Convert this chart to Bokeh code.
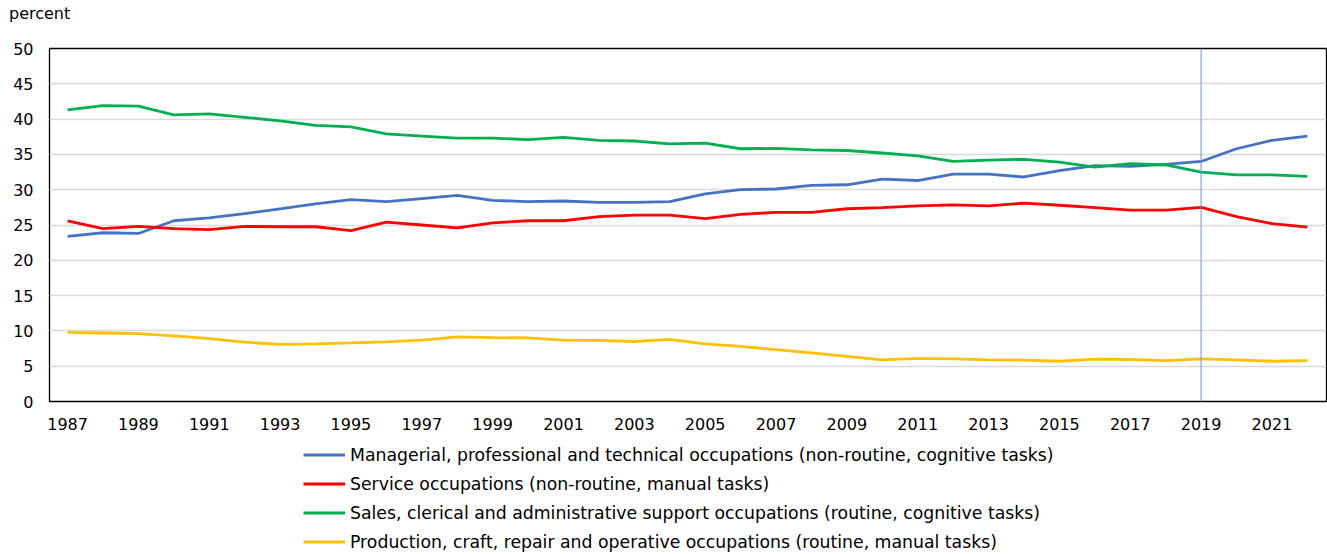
from bokeh.plotting import figure
from bokeh.models import Legend, LegendItem, Span, FixedTicker, Div
from bokeh.layouts import column
from bokeh.embed import file_html
from bokeh.resources import INLINE

years = list(range(1987, 2023))
managerial = [23.4, 23.9, 23.8, 25.6, 26.0, 26.6, 27.3, 28.0, 28.6, 28.3, 28.75, 29.2,
              28.5, 28.3, 28.4, 28.2, 28.2, 28.3, 29.4, 30.0, 30.1, 30.6, 30.7, 31.5,
              31.3, 32.2, 32.2, 31.8, 32.7, 33.4, 33.3, 33.6, 34.0, 35.8, 37.0, 37.6]
service = [25.6, 24.5, 24.8, 24.5, 24.35, 24.8, 24.75, 24.75, 24.2, 25.4, 25.0, 24.6,
           25.3, 25.6, 25.6, 26.2, 26.4, 26.4, 25.9, 26.5, 26.8, 26.8, 27.3, 27.45,
           27.7, 27.85, 27.7, 28.1, 27.8, 27.45, 27.1, 27.1, 27.5, 26.2, 25.2, 24.7]
sales = [41.3, 41.9, 41.85, 40.6, 40.75, 40.25, 39.75, 39.1, 38.9, 37.9, 37.6, 37.3,
         37.3, 37.1, 37.4, 37.0, 36.9, 36.5, 36.6, 35.8, 35.85, 35.65, 35.55, 35.2,
         34.8, 34.0, 34.2, 34.3, 33.9, 33.2, 33.7, 33.5, 32.5, 32.1, 32.1, 31.9]
production = [9.8, 9.7, 9.6, 9.3, 8.9, 8.4, 8.1, 8.15, 8.3, 8.45, 8.7, 9.15,
              9.05, 9.0, 8.7, 8.65, 8.5, 8.8, 8.15, 7.8, 7.35, 6.9, 6.4, 5.9,
              6.1, 6.05, 5.9, 5.85, 5.7, 6.0, 5.95, 5.8, 6.05, 5.9, 5.7, 5.8]

labels = [
    "Managerial, professional and technical occupations (non-routine, cognitive tasks)",
    "Service occupations (non-routine, manual tasks)",
    "Sales, clerical and administrative support occupations (routine, cognitive tasks)",
    "Production, craft, repair and operative occupations (routine, manual tasks)",
]
colors = ["#4472C4", "#FF0000", "#00B050", "#FFC000"]
x_ticks = years[::2]
y_ticks = list(range(0, 55, 5))
marker_year = 2019
unit_label = "percent"

FONT = "DejaVu Sans"
LW = 2.8

header = Div(text=unit_label, width=1327, height=28,
             styles={"font-family": FONT, "font-size": "16px", "color": "#000000",
                     "line-height": "28px", "padding-left": "9px", "margin": "0",
                     "box-sizing": "border-box"})

p = figure(width=1327, height=413, output_backend="svg", toolbar_location=None,
           x_range=(1986.49, 2022.54), y_range=(0, 50))
p.min_border_left = 49
p.min_border_right = 1
p.min_border_top = 20
p.min_border_bottom = 40

p.outline_line_color = "black"
p.outline_line_width = 1.3
p.xgrid.grid_line_color = None
p.ygrid.grid_line_color = "#D9D9D9"
p.ygrid.grid_line_width = 1.5
p.ygrid.ticker = FixedTicker(ticks=y_ticks)

for ax in (p.xaxis[0], p.yaxis[0]):
    ax.axis_line_color = None
    ax.major_tick_line_color = None
    ax.minor_tick_line_color = None
    ax.major_tick_out = 0
    ax.major_tick_in = 0
    ax.minor_tick_out = 0
    ax.major_label_text_font = FONT
    ax.major_label_text_font_size = "16px"
    ax.major_label_text_color = "#000000"
p.xaxis.ticker = FixedTicker(ticks=x_ticks)
p.yaxis.ticker = FixedTicker(ticks=y_ticks)
p.xaxis.major_label_standoff = 16
p.yaxis.major_label_standoff = 16

for series, c in zip([managerial, service, sales, production], colors):
    p.line(years, series, line_color=c, line_width=LW)

p.add_layout(Span(location=marker_year, dimension="height", line_color="#6F8FD0", line_width=1))

# legend figure (renderers hold no visible data; they only supply legend glyph styles)
p2 = figure(width=1327, height=113, output_backend="svg", toolbar_location=None,
            x_range=(0, 1), y_range=(0, 1), x_axis_type=None, y_axis_type=None)
p2.min_border = 0
p2.outline_line_color = None
p2.xgrid.grid_line_color = None
p2.ygrid.grid_line_color = None
nan = float("nan")
legend_renderers = [p2.line(x=[nan], y=[nan], line_color=c, line_width=LW) for c in colors]

legend = Legend(items=[LegendItem(label=l, renderers=[r]) for l, r in zip(labels, legend_renderers)],
                location=(254, 2), orientation="vertical")
legend.label_text_font = FONT
legend.label_text_font_size = "17.3px"
legend.label_text_color = "#000000"
legend.glyph_width = 42
legend.glyph_height = 21
legend.label_height = 21
legend.label_standoff = 5
legend.spacing = 8
legend.padding = 0
legend.margin = 0
legend.border_line_alpha = 0
legend.background_fill_alpha = 0
p2.add_layout(legend, "center")

open("out.html", "w").write(file_html(column(header, p, p2, spacing=0), INLINE))
